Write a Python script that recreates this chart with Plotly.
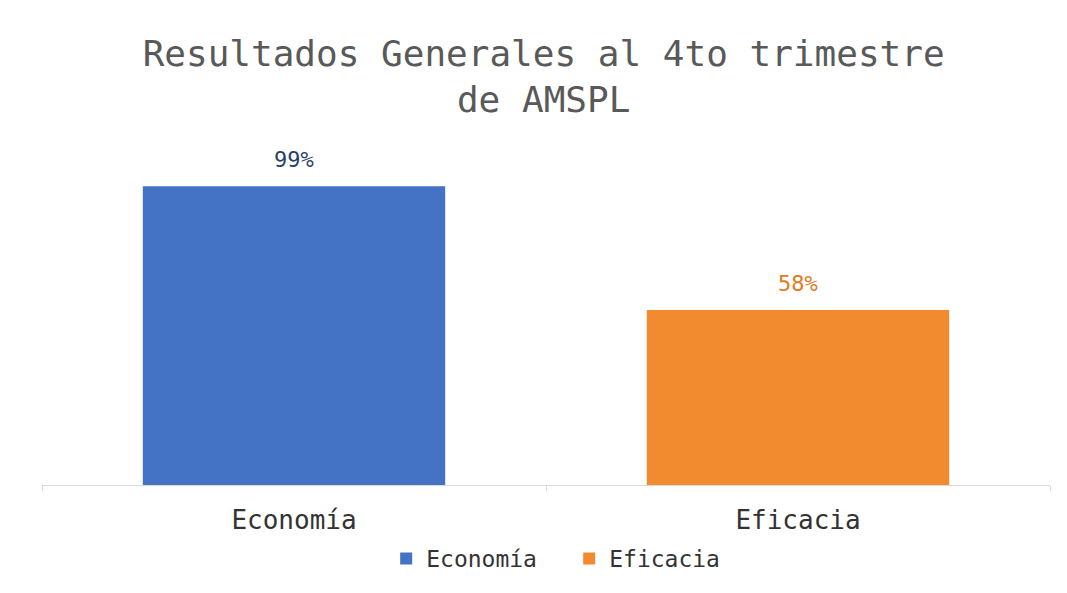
import plotly.graph_objects as go

categories = ["Economía", "Eficacia"]
values = [0.99, 0.58]
labels = ["99%", "58%"]
colors = ["#4472C4", "#F28A30"]
label_colors = ["#2E3F66", "#E07B22"]

FONT = "DejaVu Sans Mono"

fig = go.Figure()
for cat, val, lab, col, lcol in zip(categories, values, labels, colors, label_colors):
    fig.add_trace(go.Bar(
        x=[cat], y=[val], name=cat, width=0.6,
        marker=dict(color=col, line=dict(width=0)),
        hoverinfo="skip",
    ))
    fig.add_annotation(
        x=cat, y=val, text=lab, showarrow=False,
        yanchor="bottom", yshift=12,
        font=dict(family=FONT, size=22, color=lcol),
    )

fig.update_layout(
    width=1067, height=593,
    paper_bgcolor="white", plot_bgcolor="white",
    barmode="overlay",
    margin=dict(l=34, r=25, t=127, b=116),
    title=dict(
        text="Resultados Generales al 4to trimestre<br>de AMSPL",
        x=0.502, xref="container", xanchor="center",
        y=0.903, yref="container", yanchor="middle",
        font=dict(family=FONT, size=36, color="#595959"),
    ),
    font=dict(family=FONT, color="#333333"),
    showlegend=True,
    legend=dict(
        orientation="h", x=0.523, xanchor="center", y=-0.21, yanchor="middle",
        font=dict(family=FONT, size=23, color="#333333"),
        entrywidth=138, entrywidthmode="pixels", traceorder="normal",
    ),
)
fig.update_xaxes(
    type="category", categoryorder="array", categoryarray=categories,
    showline=True, linecolor="#D9D9D9", linewidth=1,
    ticks="outside", tickson="boundaries", ticklen=5, tickcolor="#D9D9D9",
    tickfont=dict(family=FONT, size=26, color="#333333"),
    ticklabelstandoff=12, showgrid=False, zeroline=False,
)
fig.update_yaxes(range=[0, 1.16], visible=False, showgrid=False)

fig.write_html("out.html")
